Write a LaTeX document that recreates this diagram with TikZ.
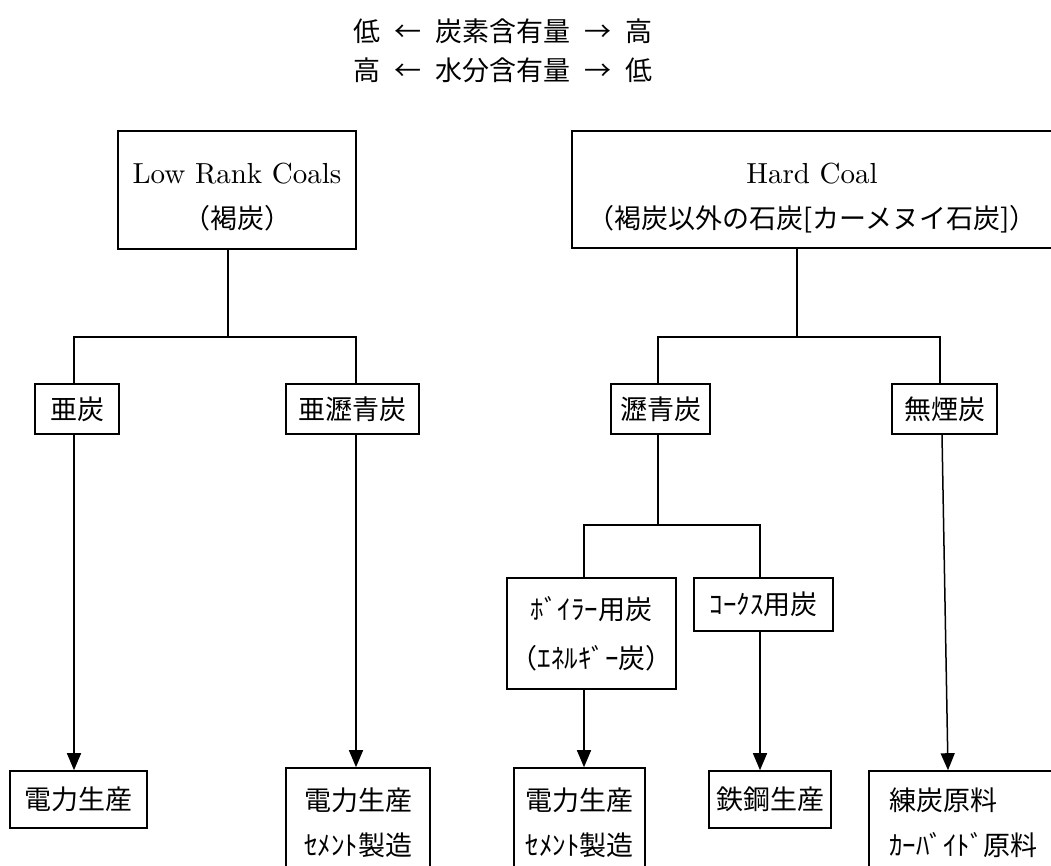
\documentclass[tikz,border=0pt]{standalone}
\usepackage{fontspec}
\newfontfamily\jp{Noto Sans CJK JP}
\newfontfamily\lmten{lmroman10-regular}[Extension=.otf]
\usetikzlibrary{arrows.meta}
\newcommand{\jpf}{\jp\fontsize{27}{45}\selectfont}
\newcommand{\latf}{\lmten\fontsize{29}{45}\selectfont}
\newcommand{\ls}[1][33]{\rule[-12pt]{0pt}{\dimexpr#1pt+12pt\relax}}
\begin{document}
\begin{tikzpicture}[x=1pt,y=-1pt,
  box/.style={draw,line width=1.6pt,inner sep=0pt,align=center,font=\jpf},
  conn/.style={line width=1.5pt},
  arr/.style={conn,-{Triangle[length=17pt,width=14pt]}}]
\useasboundingbox (0,0) rectangle (1051,866);
\clip (0,0) rectangle (1051,866);
% header
\node[font=\jpf,inner sep=0pt] (h1) at (503,31) {低\hspace{14pt}←\hspace{14pt}炭素含有量\hspace{14pt}→\hspace{14pt}高};
\node[font=\jpf,inner sep=0pt] (h2) at (503,70) {高\hspace{14pt}←\hspace{14pt}水分含有量\hspace{14pt}→\hspace{14pt}低};
% top boxes
\node[box,minimum width=238,minimum height=118] (lr) at (237,190) {\ls[44]{\latf Low Rank Coals}\\\ls（褐炭）};
\node[box,minimum width=480,minimum height=117] (hc) at (812,189.5) {\ls[46]{\latf Hard Coal}\\\ls（褐炭以外の石炭[カーメヌイ石炭]）};
% second level
\node[box,minimum width=84,minimum height=50] (ya) at (77,409) {亜炭};
\node[box,minimum width=133,minimum height=50] (ysb) at (352.5,409) {亜瀝青炭};
\node[box,minimum width=99,minimum height=50] (rs) at (660.5,409) {瀝青炭};
\node[box,minimum width=105,minimum height=50] (mu) at (944.5,409) {無煙炭};
% third level
\node[box,minimum width=169,minimum height=111] (bo) at (591.5,633.5) {\ls ﾎﾞｲﾗｰ用炭\\\ls[36]（ｴﾈﾙｷﾞｰ炭）};
\node[box,minimum width=139,minimum height=53] (ko) at (763.5,604.5) {ｺｰｸｽ用炭};
% bottom boxes
\node[box,minimum width=137,minimum height=57] (e1) at (78.5,799.5) {電力生産};
\node[box,minimum width=144,minimum height=93] (e2) at (358,817.5) {\ls[42]電力生産\\\ls ｾﾒﾝﾄ製造};
\node[box,minimum width=131,minimum height=93] (e3) at (579.5,817.5) {\ls[42]電力生産\\\ls ｾﾒﾝﾄ製造};
\node[box,minimum width=122,minimum height=57] (e4) at (770,799.5) {鉄鋼生産};
\node[box,inner xsep=20pt,text width=180pt,align=left,minimum height=102] (e5) at (979,822) {\ls 練炭原料\\\ls ｶｰﾊﾞｲﾄﾞ原料};
% junctions
\coordinate (b1m) at (228,337);
\coordinate (b1l) at (74,337);
\coordinate (b1r) at (356,337);
\coordinate (b2m) at (797,337);
\coordinate (b2l) at (658,337);
\coordinate (b2r) at (940,337);
\coordinate (b3m) at (658,525);
\coordinate (b3l) at (584,525);
\coordinate (b3r) at (760,525);
\coordinate (a5t) at (942,434);
\coordinate (a5b) at (948,771);
% connectors
\draw[conn] (b1m |- lr.south) -- (b1m);
\draw[conn] (b1l |- ya.north) -- (b1l) -- (b1r) -- (b1r |- ysb.north);
\draw[conn] (b2m |- hc.south) -- (b2m);
\draw[conn] (b2l |- rs.north) -- (b2l) -- (b2r) -- (b2r |- mu.north);
\draw[conn] (b3m |- rs.south) -- (b3m);
\draw[conn] (b3l |- bo.north) -- (b3l) -- (b3r) -- (b3r |- ko.north);
\draw[arr] (b1l |- ya.south) -- (b1l |- e1.north);
\draw[arr] (b1r |- ysb.south) -- (b1r |- e2.north);
\draw[arr] (b3l |- bo.south) -- (b3l |- e3.north);
\draw[arr] (b3r |- ko.south) -- (b3r |- e4.north);
\draw[arr] (a5t |- mu.south) -- (a5b |- e5.north);
\end{tikzpicture}
\end{document}
